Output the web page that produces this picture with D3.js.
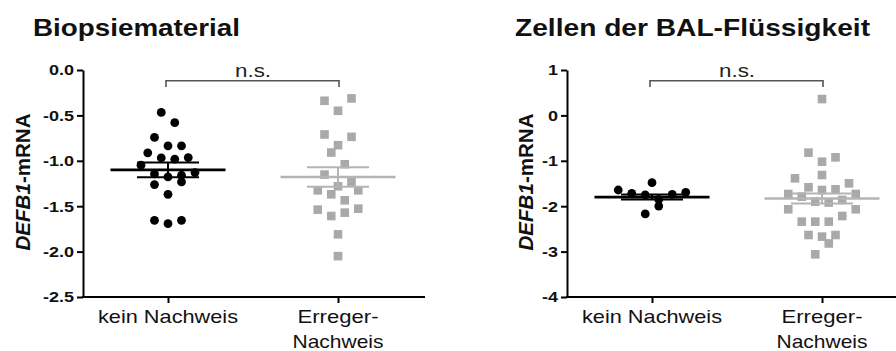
<!DOCTYPE html>
<html><head><meta charset="utf-8">
<script src="https://cdn.jsdelivr.net/npm/d3@7"></script>
<style>body{margin:0;background:#fff}svg{display:block}text{font-family:"Liberation Sans",Arial,Helvetica,sans-serif}</style>
</head><body><svg id="c" width="896" height="351"></svg>
<script>
// ---------- data ----------
const categories = ["kein Nachweis", "Erreger-Nachweis"];
const categoryLines = [["kein Nachweis"], ["Erreger-", "Nachweis"]];
const panelTitles = ["Biopsiematerial", "Zellen der BAL-Flüssigkeit"];
const yLabelItalic = "DEFB1";
const yLabelRest = "-mRNA";
const sigLabel = "n.s.";

const bioTicks = [0, -0.5, -1, -1.5, -2, -2.5];
const bioTickLabels = ["0.0", "-0.5", "-1.0", "-1.5", "-2.0", "-2.5"];
const balTicks = [1, 0, -1, -2, -3, -4];
const balTickLabels = ["1", "0", "-1", "-2", "-3", "-4"];

// Biopsiematerial, kein Nachweis (values, column offset)
const bioKein =    [-0.467,-0.58,-0.743,-0.835,-0.835,-0.912,-0.968,-0.982,-0.964,-1.048,-1.145,-1.178,-1.159,-1.13,-1.262,-1.233,-1.369,-1.656,-1.692,-1.656];
const bioKeinCol = [-1,1,-2,0,2,-3,-1,1,3,-4,-2,0,2,4,-2,2,0,-2,0,2];
// Biopsiematerial, Erreger-Nachweis
const bioErr =    [-0.339,-0.313,-0.449,-0.71,-0.736,-0.828,-0.909,-1.038,-1.152,-1.233,-1.28,-1.325,-1.369,-1.325,-1.435,-1.538,-1.527,-1.571,-1.608,-1.81,-2.05];
const bioErrCol = [-2,2,0,-2,2,0,-1,1,-2,2,0,-3,-1,3,1,-3,3,1,-1,0,0];
// BAL, kein Nachweis
const balKein =    [-1.643,-1.716,-1.482,-1.753,-1.85,-1.996,-1.738,-1.694,-2.17];
const balKeinCol = [-5,-3,0,-1,1,1,3,5,-1];
// BAL, Erreger-Nachweis
const balErr =    [0.36,-0.82,-0.923,-1.02,-1.386,-1.313,-1.496,-1.584,-1.643,-1.628,-1.731,-1.79,-1.731,-1.9,-1.92,-1.863,-2.068,-2.068,-2.216,-2.34,-2.34,-2.34,-2.634,-2.67,-2.634,-2.82,-3.06];
const balErrCol = [0,-2,2,0,-4,0,4,-2,0,2,-5,-3,5,-1,1,3,-5,5,3,-3,-1,1,-2,0,2,1,-1];

const bioMeans = [-1.10, -1.178];
const bioSems  = [0.08, 0.107];
const balMeans = [-1.80, -1.83];
const balSems  = [0.055, 0.11];

// ---------- drawing ----------
const svg = d3.select("#c");
const BLACK = "#000", GRAY = "#a9a9a9", GRAYLINE = "#b4b4b4";

function fit(sel, w){ sel.attr("textLength", w).attr("lengthAdjust", "spacingAndGlyphs"); }

function panel(cfg){
  const g = svg.append("g");
  const y = d3.scaleLinear().domain([cfg.ticks[cfg.ticks.length-1], cfg.ticks[0]]).range([297, 70]);
  const x = d3.scalePoint().domain(categories).range([cfg.x0, cfg.x0 + 340]).padding(0.5);
  const off = d3.scaleLinear().domain([-1, 1]).range([-6.75, 6.75]);

  // title
  g.append("text").attr("x", cfg.titleX).attr("y", 36)
    .attr("font-size", 24).attr("font-weight", "bold").attr("fill", "#111")
    .text(cfg.title).call(fit, cfg.titleW);

  // y axis
  const ya = g.append("g").attr("transform", `translate(${cfg.x0},0)`)
    .call(d3.axisLeft(y).tickValues(cfg.ticks).tickFormat((d,i) => cfg.tickLabels[i])
      .tickSize(6).tickSizeOuter(0).tickPadding(3));
  ya.selectAll("path,line").attr("stroke", "#000").attr("stroke-width", 2);
  ya.selectAll("text").attr("font-size", 15).attr("font-weight", "bold").attr("fill", "#111")
    .style("font-family", '"Liberation Sans",Arial,sans-serif')
    .each(function(){ const w = this.getComputedTextLength(); this.setAttribute("textLength", w*1.2); this.setAttribute("lengthAdjust","spacingAndGlyphs"); });

  // x axis
  const xa = g.append("g").attr("transform", "translate(0,297)")
    .call(d3.axisBottom(x).tickSize(6).tickSizeOuter(0).tickFormat(""));
  xa.select("path").attr("d", `M${cfg.x0-1},0H${cfg.x0 + cfg.xLen}`);
  xa.selectAll("path,line").attr("stroke", "#000").attr("stroke-width", 2);

  categories.forEach((c, i) => {
    categoryLines[i].forEach((t, j) => {
      g.append("text").attr("x", x(c)).attr("y", 323 + j*25).attr("text-anchor", "middle")
        .attr("font-size", 19).attr("fill", "#111").text(t)
        .call(fit, t === "kein Nachweis" ? 140 : (t === "Erreger-" ? 81 : 91));
    });
  });

  // y label
  const yl = g.append("text").attr("transform", `translate(${cfg.labelX},182) rotate(-90)`)
    .attr("text-anchor", "middle").attr("font-size", 20).attr("font-weight", "bold").attr("fill", "#111");
  yl.append("tspan").attr("font-style", "italic").text(yLabelItalic);
  yl.append("tspan").text(yLabelRest);
  yl.call(fit, 137);

  // significance bracket
  const bx0 = x(categories[0]), bx1 = x(categories[1]);
  g.append("path").attr("d", `M${bx0-2},87V80.7H${bx1+1}V87`).attr("fill", "none")
    .attr("stroke", "#555").attr("stroke-width", 1.6);
  g.append("text").attr("x", (bx0 + bx1)/2).attr("y", 77).attr("text-anchor", "middle")
    .attr("font-size", 18).attr("fill", "#222").text(sigLabel).call(fit, 36);

  // points
  const cx0 = x(categories[0]), cx1 = x(categories[1]);
  g.selectAll("circle.p").data(cfg.g0.map((v,i) => ({v, k: cfg.g0c[i]}))).join("circle")
    .attr("class", "p").attr("cx", d => cx0 + off(d.k)).attr("cy", d => y(d.v)).attr("r", 4.4).attr("fill", BLACK);
  const s = 8.6;
  g.selectAll("rect.p").data(cfg.g1.map((v,i) => ({v, k: cfg.g1c[i]}))).join("rect")
    .attr("class", "p").attr("x", d => cx1 + off(d.k) - s/2).attr("y", d => y(d.v) - s/2)
    .attr("width", s).attr("height", s).attr("fill", GRAY);

  // mean +/- SEM
  [[cx0, cfg.means[0], cfg.sems[0], BLACK], [cx1, cfg.means[1], cfg.sems[1], GRAYLINE]].forEach(([cx, m, se, col]) => {
    g.append("line").attr("x1", cx-57.5).attr("x2", cx+57.5).attr("y1", y(m)).attr("y2", y(m)).attr("stroke", col).attr("stroke-width", 2.6);
    [m+se, m-se].forEach(v => g.append("line").attr("x1", cx-31).attr("x2", cx+31).attr("y1", y(v)).attr("y2", y(v)).attr("stroke", col).attr("stroke-width", 2));
    g.append("line").attr("x1", cx).attr("x2", cx).attr("y1", y(m+se)).attr("y2", y(m-se)).attr("stroke", col).attr("stroke-width", 2);
  });
}

panel({x0: 83, xLen: 342, ticks: bioTicks, tickLabels: bioTickLabels, title: panelTitles[0], titleX: 33, titleW: 207,
  labelX: 29.5, g0: bioKein, g0c: bioKeinCol, g1: bioErr, g1c: bioErrCol, means: bioMeans, sems: bioSems});
panel({x0: 567, xLen: 340, ticks: balTicks, tickLabels: balTickLabels, title: panelTitles[1], titleX: 515, titleW: 355,
  labelX: 533, g0: balKein, g0c: balKeinCol, g1: balErr, g1c: balErrCol, means: balMeans, sems: balSems});
</script></body></html>
